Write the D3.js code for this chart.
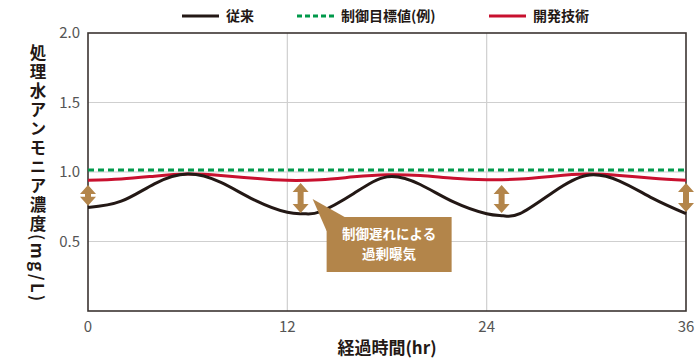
<!DOCTYPE html>
<html>
<head>
<meta charset="utf-8">
<script src="https://cdn.jsdelivr.net/npm/d3@7"></script>
<style>
  body { margin: 0; background: #fff; }
  text { font-family: "Noto Sans CJK JP", "Noto Sans", sans-serif; }
</style>
</head>
<body>
<div id="chart"></div>
<script>
var W = 697, H = 360;
var margin = {top: 33, right: 11, bottom: 49, left: 88};

// data
var xTicks = [0, 12, 24, 36];
var yTicks = [0.5, 1.0, 1.5, 2.0];

var blackHours = [0, 2, 4, 6, 8, 10, 12, 13, 14, 16, 18, 20, 22, 24, 25, 26, 28, 30, 32, 34, 36];
var blackVals  = [0.745, 0.79, 0.915, 0.985, 0.925, 0.80, 0.71, 0.70, 0.715, 0.845, 0.965, 0.91, 0.785, 0.70, 0.685, 0.70, 0.855, 0.975, 0.935, 0.81, 0.70];

var redHours = [0, 2, 4, 6, 8, 10, 12, 14, 16, 18, 20, 22, 24, 26, 28, 30, 32, 34, 36];
var redVals  = [0.94, 0.95, 0.97, 0.985, 0.975, 0.955, 0.94, 0.945, 0.965, 0.98, 0.975, 0.955, 0.945, 0.95, 0.97, 0.985, 0.975, 0.955, 0.94];

var targetVal = 1.015;

var arrowHours  = [0, 12.8, 24.9, 36];
var arrowTop    = [0.906, 0.92, 0.906, 0.92];
var arrowBottom = [0.757, 0.705, 0.705, 0.712];

var legendNames = ["従来", "制御目標値(例)", "開発技術"];

var svg = d3.select("#chart").append("svg")
    .attr("width", W)
    .attr("height", H);

var x = d3.scaleLinear().domain([0, 36]).range([margin.left, W - margin.right]);
var y = d3.scaleLinear().domain([0, 2]).range([H - margin.bottom, margin.top]);

// grid
svg.append("g").selectAll("line.v")
    .data([12, 24]).enter().append("line")
    .attr("x1", d => x(d)).attr("x2", d => x(d))
    .attr("y1", y(0)).attr("y2", y(2))
    .attr("stroke", "#cfcfcf").attr("stroke-width", 1.2);

svg.append("g").selectAll("line.h")
    .data([0.5, 1.0, 1.5]).enter().append("line")
    .attr("x1", x(0)).attr("x2", x(36))
    .attr("y1", d => y(d)).attr("y2", d => y(d))
    .attr("stroke", "#cfcfcf").attr("stroke-width", 1.2);

// frame
svg.append("rect")
    .attr("x", x(0)).attr("y", y(2))
    .attr("width", x(36) - x(0)).attr("height", y(0) - y(2))
    .attr("fill", "none").attr("stroke", "#3b3431").attr("stroke-width", 1.6);

// tick labels
svg.append("g").selectAll("text")
    .data(yTicks).enter().append("text")
    .attr("x", x(0) - 8).attr("y", d => y(d) + 5)
    .attr("text-anchor", "end")
    .attr("font-size", 15).attr("fill", "#555")
    .text(d => d.toFixed(1));

svg.append("g").selectAll("text")
    .data(xTicks).enter().append("text")
    .attr("x", d => x(d)).attr("y", y(0) + 21)
    .attr("text-anchor", "middle")
    .attr("font-size", 15).attr("fill", "#555")
    .text(d => d);

// axis titles
svg.append("text")
    .attr("x", (x(0) + x(36)) / 2).attr("y", 354)
    .attr("text-anchor", "middle")
    .attr("font-size", 17).attr("font-weight", "bold").attr("fill", "#231815")
    .text("経過時間(hr)");

svg.append("text")
    .attr("x", 38).attr("y", 44)
    .style("writing-mode", "vertical-rl")
    .attr("font-size", 16.5).attr("font-weight", "bold").attr("fill", "#231815")
    .attr("letter-spacing", 2.5)
    .text("処理水アンモニア濃度(mg/L)");

// lines
var line = d3.line().curve(d3.curveNatural);

svg.append("line")
    .attr("x1", x(0)).attr("x2", x(36))
    .attr("y1", y(targetVal)).attr("y2", y(targetVal))
    .attr("stroke", "#00994a").attr("stroke-width", 3)
    .attr("stroke-dasharray", "6,4");

svg.append("path")
    .attr("d", line(redHours.map((h, i) => [x(h), y(redVals[i])])))
    .attr("fill", "none").attr("stroke", "#c8102e").attr("stroke-width", 3);

svg.append("path")
    .attr("d", line(blackHours.map((h, i) => [x(h), y(blackVals[i])])))
    .attr("fill", "none").attr("stroke", "#231815").attr("stroke-width", 3);

// double arrows
var brown = "#b3854a";
function arrowPath(cx, t, b) {
  var hw = 8, hl = 9, sw = 3;
  return "M" + cx + "," + t +
    "L" + (cx + hw) + "," + (t + hl) + "L" + (cx + sw) + "," + (t + hl) +
    "L" + (cx + sw) + "," + (b - hl) + "L" + (cx + hw) + "," + (b - hl) +
    "L" + cx + "," + b +
    "L" + (cx - hw) + "," + (b - hl) + "L" + (cx - sw) + "," + (b - hl) +
    "L" + (cx - sw) + "," + (t + hl) + "L" + (cx - hw) + "," + (t + hl) + "Z";
}
svg.append("g").selectAll("path")
    .data(arrowHours).enter().append("path")
    .attr("d", (d, i) => arrowPath(x(d), y(arrowTop[i]), y(arrowBottom[i])))
    .attr("fill", brown);

// callout
var ax = x(arrowHours[1]);
var bx = ax + 26, by = 217, bw = 125, bh = 55;
svg.append("path")
    .attr("d", "M" + (ax + 12) + "," + 199 + "L" + (bx + 18) + "," + by + "L" + bx + "," + (by + 14) + "Z")
    .attr("fill", brown);
svg.append("rect")
    .attr("x", bx).attr("y", by).attr("width", bw).attr("height", bh)
    .attr("fill", brown);
svg.append("text")
    .attr("x", bx + bw / 2).attr("y", by + 22)
    .attr("text-anchor", "middle").attr("font-size", 13.5).attr("font-weight", "bold")
    .attr("fill", "#fff").text("制御遅れによる");
svg.append("text")
    .attr("x", bx + bw / 2).attr("y", by + 42)
    .attr("text-anchor", "middle").attr("font-size", 13.5).attr("font-weight", "bold")
    .attr("fill", "#fff").text("過剰曝気");

// legend
var legX = [182, 297, 489];
var legColors = ["#231815", "#00994a", "#c8102e"];
var leg = svg.append("g").selectAll("g")
    .data(legendNames).enter().append("g")
    .attr("transform", (d, i) => "translate(" + legX[i] + ",16)");
leg.append("line")
    .attr("x1", 0).attr("x2", 37).attr("y1", 0).attr("y2", 0)
    .attr("stroke", (d, i) => legColors[i]).attr("stroke-width", 3)
    .attr("stroke-dasharray", (d, i) => i == 1 ? "5,3" : null);
leg.append("text")
    .attr("x", 44).attr("y", 5)
    .attr("font-size", 14).attr("font-weight", "bold").attr("fill", "#231815")
    .text(d => d);
</script>
</body>
</html>
